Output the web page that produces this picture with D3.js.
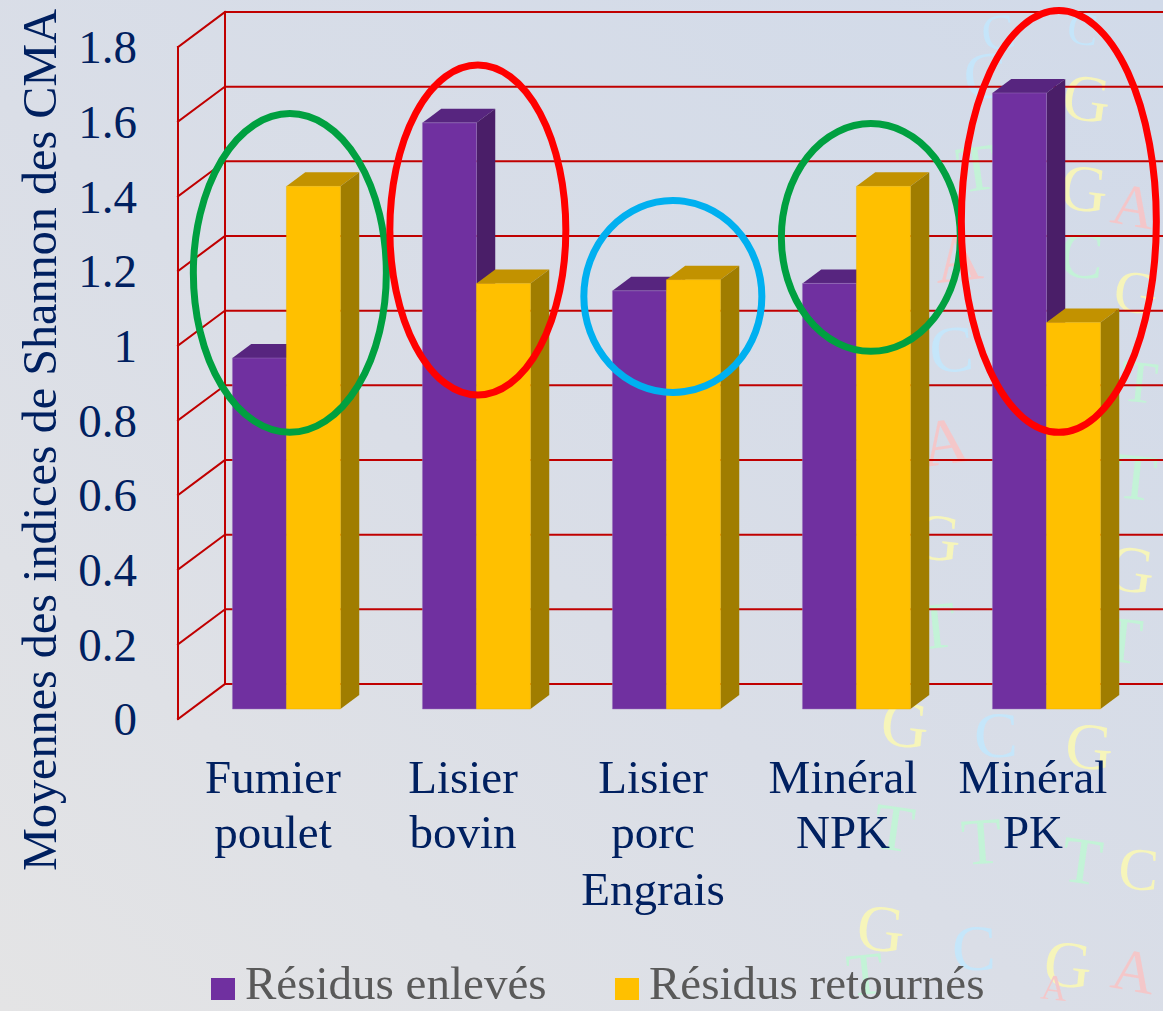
<!DOCTYPE html>
<html>
<head>
<meta charset="utf-8">
<script src="https://cdn.jsdelivr.net/npm/d3@7"></script>
<style>
  html, body { margin: 0; padding: 0; overflow: hidden; background: #dde0e6; }
  svg { display: block; }
</style>
</head>
<body>
<svg id="chart" width="1163" height="1011"></svg>
<script>
// ---- Data ----------------------------------------------------------------
const categories = ["Fumier poulet", "Lisier bovin", "Lisier porc", "Minéral NPK", "Minéral PK"];
const seriesNames = ["Résidus enlevés", "Résidus retournés"];
const residusEnleves = [0.94, 1.57, 1.12, 1.14, 1.65];
const residusRetournes = [1.40, 1.14, 1.15, 1.40, 1.035];
const tickValues = [0, 0.2, 0.4, 0.6, 0.8, 1, 1.2, 1.4, 1.6, 1.8];
const tickLabels = ["0", "0.2", "0.4", "0.6", "0.8", "1", "1.2", "1.4", "1.6", "1.8"];
const yTitle = "Moyennes des indices de Shannon des CMA";
const xTitle = "Engrais";

// Highlight rings: which category, and the value span each ring encloses
const ringCategories = ["Fumier poulet", "Lisier bovin", "Lisier porc", "Minéral NPK", "Minéral PK"];
const ringLow = [0.741, 0.841, 0.848, 0.958, 0.741];
const ringHigh = [1.595, 1.725, 1.362, 1.568, 1.871];
const ringColors = ["#00a040", "#ff0000", "#00b0f0", "#00a040", "#ff0000"];

// ---- Layout / style ------------------------------------------------------
const W = 1163, H = 1011;
const seriesFront = ["#7030a0", "#ffc000"];
const seriesTop = ["#57257f", "#c29200"];
const seriesSide = ["#4a1e68", "#a07d00"];
const gridColor = "#c00000";
const navy = "#002060";
const serif = "'Liberation Serif', 'Times New Roman', serif";
const DEPTH = { dx: 47, dy: -35 };           // offset from floor front to back wall
const BAR_Z = [0.286, 0.686];               // bar front / back depth
const ringDx = [-6, -8, -3, 5, 3];          // horizontal nudge of each ring
const ringRx = [96.5, 88, 89, 89.5, 97.5];  // horizontal radius of each ring

const svg = d3.select("#chart");
const defs = svg.append("defs");

// Background wash
const bg = defs.append("linearGradient").attr("id", "bg")
  .attr("x1", "1").attr("y1", "0").attr("x2", "0").attr("y2", "1");
bg.append("stop").attr("offset", "0%").attr("stop-color", "#d1dae9");
bg.append("stop").attr("offset", "55%").attr("stop-color", "#dadee7");
bg.append("stop").attr("offset", "100%").attr("stop-color", "#e4e4e5");
svg.append("rect").attr("width", W).attr("height", H).attr("fill", "url(#bg)");

// Faint nucleotide letters scattered behind the plot: [letter, colour, x, y, angle, size]
defs.append("filter").attr("id", "soft")
  .append("feGaussianBlur").attr("stdDeviation", 0.7);
const glyphs = [
  ["C", "#c4e6fb", 984, 40, -8, 50], ["C", "#c4e6fb", 1066, 42, 6, 46],
  ["C", "#c4e6fb", 966, 100, -6, 66], ["G", "#f8f6b8", 1060, 117, 8, 66],
  ["T", "#c2f4d6", 960, 193, -8, 66], ["G", "#f8f6b8", 1058, 208, 6, 66],
  ["A", "#f6c6c8", 1134, 222, 10, 60], ["A", "#f6c6c8", 937, 283, -6, 66],
  ["C", "#c2f4d6", 1058, 276, 4, 66], ["G", "#f8f6b8", 1124, 310, 6, 60],
  ["C", "#c4e6fb", 931, 373, -4, 66], ["T", "#c2f4d6", 1119, 400, 6, 60],
  ["A", "#f6c6c8", 924, 467, -8, 66], ["T", "#c2f4d6", 1114, 497, 6, 66],
  ["G", "#f8f6b8", 911, 557, 6, 66], ["G", "#f8f6b8", 1104, 588, 8, 66],
  ["T", "#c2f4d6", 918, 650, -6, 66], ["T", "#c2f4d6", 1100, 660, 6, 66],
  ["G", "#f8f6b8", 879, 744, 6, 66], ["C", "#c4e6fb", 974, 757, 0, 66],
  ["G", "#f8f6b8", 1064, 767, 4, 66], ["T", "#c2f4d6", 871, 847, 8, 66],
  ["T", "#c2f4d6", 963, 865, -4, 66], ["T", "#c2f4d6", 1059, 880, 8, 66],
  ["C", "#f8f6b8", 1147, 888, 4, 60], ["G", "#f8f6b8", 855, 948, 6, 66],
  ["C", "#c4e6fb", 952, 970, 0, 66], ["G", "#f8f6b8", 1042, 984, 6, 66],
  ["A", "#f6c6c8", 1128, 987, 10, 60], ["T", "#c2f4d6", 849, 1030, -6, 60],
  ["A", "#f6c6c8", 1040, 1030, 6, 36]
];
const glyphLayer = svg.append("g").attr("filter", "url(#soft)");
glyphLayer.selectAll("text").data(glyphs).join("text")
  .attr("transform", d => `translate(${d[2]},${d[3]}) rotate(${d[4]})`)
  .attr("font-family", serif).attr("font-size", d => d[5])
  .attr("fill", d => d[1]).attr("opacity", 0.95)
  .text(d => d[0])
  .each(function (d) {
    // keep every letter fully inside the drawing area
    const b = this.getBoundingClientRect();
    let sx = 0, sy = 0;
    if (b.left < 2) sx = 2 - b.left;
    if (b.right > W - 2) sx = (W - 2) - b.right;
    if (b.top < 2) sy = 2 - b.top;
    if (b.bottom > H - 2) sy = (H - 2) - b.bottom;
    if (sx || sy) {
      d3.select(this).attr("transform", `translate(${d[2] + sx},${d[3] + sy}) rotate(${d[4]})`);
    }
  });

// ---- Scales & projection -------------------------------------------------
const y = d3.scaleLinear().domain([0, 1.8]).range([719, 47]);
const x0 = d3.scaleBand().domain(categories).range([178, 178 + 190 * categories.length]);
const barW = 54;
const x1 = d3.scaleBand().domain(seriesNames)
  .range([x0.bandwidth() / 2 - barW, x0.bandwidth() / 2 + barW]);
const proj = (X, v, z) => [X + z * DEPTH.dx, y(v) + z * DEPTH.dy];
const pts = arr => arr.map(p => p.join(",")).join(" ");

// ---- Walls and gridlines -------------------------------------------------
const grid = svg.append("g").attr("stroke", gridColor).attr("stroke-width", 2)
  .attr("fill", "none").attr("stroke-linecap", "square");
const wallX = x0.range()[0];
tickValues.forEach(v => {
  const a = proj(wallX, v, 0), b = proj(wallX, v, 1);
  grid.append("line").attr("x1", a[0]).attr("y1", a[1]).attr("x2", b[0]).attr("y2", b[1]);
  grid.append("line").attr("x1", b[0]).attr("y1", b[1]).attr("x2", W + 20).attr("y2", b[1]);
});
[0, 1].forEach(z => {
  const a = proj(wallX, 0, z), b = proj(wallX, 1.8, z);
  grid.append("line").attr("x1", a[0]).attr("y1", a[1]).attr("x2", b[0]).attr("y2", b[1]);
});

// ---- Bars ------------------------------------------------------------------
const rows = categories.map((c, i) => ({ cat: c, values: [residusEnleves[i], residusRetournes[i]] }));
const bars = svg.append("g");
rows.forEach(r => {
  seriesNames.forEach((s, k) => {
    const v = r.values[k];
    const L = x0(r.cat) + x1(s), R = L + x1.bandwidth();
    const [zf, zb] = BAR_Z;
    const g = bars.append("g");
    g.append("polygon").attr("points", pts([proj(L, v, zf), proj(R, v, zf), proj(R, v, zb), proj(L, v, zb)]))
      .attr("fill", seriesTop[k]);
    g.append("polygon").attr("points", pts([proj(R, 0, zf), proj(R, 0, zb), proj(R, v, zb), proj(R, v, zf)]))
      .attr("fill", seriesSide[k]);
    g.append("polygon").attr("points", pts([proj(L, 0, zf), proj(R, 0, zf), proj(R, v, zf), proj(L, v, zf)]))
      .attr("fill", seriesFront[k]).attr("stroke", k === 0 ? "#9b74bd" : "#e8b400")
      .attr("stroke-width", 0.8).attr("stroke-opacity", 0.6);
  });
});

// ---- Highlight rings -------------------------------------------------------
const barY = v => y(v) + BAR_Z[0] * DEPTH.dy;
svg.append("g").selectAll("ellipse").data(ringCategories).join("ellipse")
  .attr("cx", (c, i) => x0(c) + x0.bandwidth() / 2 + (BAR_Z[0] + BAR_Z[1]) / 2 * DEPTH.dx + ringDx[i])
  .attr("cy", (c, i) => (barY(ringLow[i]) + barY(ringHigh[i])) / 2)
  .attr("rx", (c, i) => ringRx[i])
  .attr("ry", (c, i) => (barY(ringLow[i]) - barY(ringHigh[i])) / 2)
  .attr("fill", "none").attr("stroke", (c, i) => ringColors[i]).attr("stroke-width", 7);

// ---- Axes ------------------------------------------------------------------
const yAxis = d3.axisLeft(y).tickValues(tickValues)
  .tickFormat((d, i) => tickLabels[i]).tickSize(0).tickPadding(0);
const ay = svg.append("g").attr("transform", "translate(137,0)").call(yAxis);
ay.select(".domain").remove();
ay.selectAll("text").attr("font-family", serif).attr("font-size", 47)
  .attr("fill", navy).attr("dy", "0.34em");

svg.append("text")
  .attr("transform", "translate(56,440) rotate(-90)")
  .attr("text-anchor", "middle").attr("font-family", serif).attr("font-size", 48.2)
  .attr("fill", navy).text(yTitle);

const catLabels = svg.append("g").attr("font-family", serif).attr("font-size", 47)
  .attr("fill", navy).attr("text-anchor", "middle");
categories.forEach(c => {
  const t = catLabels.append("text").attr("x", x0(c) + x0.bandwidth() / 2).attr("y", 793);
  c.split(" ").forEach((w, j) => {
    t.append("tspan").attr("x", x0(c) + x0.bandwidth() / 2).attr("y", 793 + j * 55).text(w);
  });
});
svg.append("text").attr("x", d3.mean(x0.range())).attr("y", 905)
  .attr("text-anchor", "middle").attr("font-family", serif).attr("font-size", 47)
  .attr("fill", navy).text(xTitle);

// ---- Legend ----------------------------------------------------------------
const legendX = [211, 615];
const legend = svg.append("g").attr("font-family", serif).attr("font-size", 47).attr("fill", "#595959");
seriesNames.forEach((s, k) => {
  legend.append("rect").attr("x", legendX[k]).attr("y", 978).attr("width", 24).attr("height", 22)
    .attr("fill", seriesFront[k]);
  legend.append("text").attr("x", legendX[k] + 34).attr("y", 999).text(s);
});
</script>
</body>
</html>
